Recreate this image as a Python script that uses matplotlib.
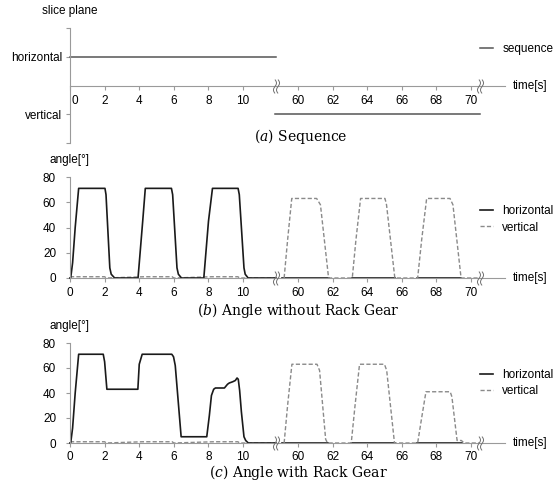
import numpy as np
import matplotlib
matplotlib.use('Agg')
import matplotlib.pyplot as plt
from matplotlib.path import Path
import matplotlib.transforms as mtransforms

plt.rcParams['font.family'] = ['Liberation Sans', 'DejaVu Sans']
plt.rcParams['mathtext.fontset'] = 'dejavuserif'

# ---- data ----
# (a) sequence: slice plane (1 = horizontal, -1 = vertical)
seq_t_left = [0, 11.9]
seq_left = [1, 1]
seq_t_right = [58.7, 70.5]
seq_right = [-1, -1]

# (b) angle without rack gear
b_t_h_left = [0, 0.04, 0.15, 0.3, 0.5, 2.02, 2.08, 2.3, 2.38, 2.58, 3.93, 4.05, 4.2, 4.35, 5.86,
              5.93, 6.18, 6.26, 6.44, 7.73, 7.85, 8.0, 8.23, 9.71, 9.78, 10.05, 10.12, 10.29, 11.9]
b_h_left = [0, 0, 12, 40, 71, 71, 66, 8, 3, 0, 0, 20, 45, 71, 71,
            66, 8, 3, 0, 0, 20, 45, 71, 71, 66, 8, 3, 0, 0]
b_t_v_left = [0, 0.5, 2.0, 2.1, 4.3, 5.9, 6.0, 8.2, 9.7, 9.8, 11.9]
b_v_left = [1, 1, 1, 0, 1, 1, 0, 1, 1, 0, 0]

b_t_v_right = [59.2, 59.4, 59.64, 61.08, 61.3, 61.77, 63.14, 63.35, 63.62, 65.03, 65.12, 65.6,
               66.92, 67.15, 67.44, 68.79, 68.96, 69.43, 70.5]
b_v_right = [0, 30, 63, 63, 58, 0, 0, 30, 63, 63, 58, 0, 0, 30, 63, 63, 58, 0, 0]
b_t_h_right = [59.1, 61.8, np.nan, 63.1, 65.6, np.nan, 66.9, 69.45]
b_h_right = [0, 0, np.nan, 0, 0, np.nan, 0, 0]

# (c) angle with rack gear
c_t_h_left = [0, 0.04, 0.15, 0.3, 0.5, 1.92, 2.0, 2.13, 3.92, 4.0, 4.17, 5.88, 5.98, 6.08, 6.42,
              7.9, 8.05, 8.17, 8.3, 8.4, 8.92, 9.1, 9.2, 9.4, 9.55, 9.65, 9.72, 9.8, 9.9, 10.05,
              10.15, 10.3, 11.9]
c_h_left = [0, 0, 12, 40, 71, 71, 65, 43, 43, 63, 71, 71, 69, 62, 5,
            5, 22, 38, 43, 44, 44, 47, 48, 49, 50, 52, 51, 42, 25, 5,
            2, 0, 0]
c_t_v_left = [0, 0.5, 2.0, 2.1, 4.2, 5.9, 6.0, 8.3, 9.7, 9.8, 11.9]
c_v_left = [1, 1, 1, 0, 1, 1, 0, 1, 1, 0, 0]

c_t_v_right = [59.2, 59.4, 59.65, 61.1, 61.25, 61.6, 61.71, 63.08, 63.3, 63.56, 65.0, 65.13, 65.58,
               66.92, 67.15, 67.4, 68.8, 68.9, 69.2, 69.45, 69.6, 70.5]
c_v_right = [0, 30, 63, 63, 58, 3, 0, 0, 30, 63, 63, 58, 0,
             0, 20, 41, 41, 37, 2, 2, 0, 0]
c_t_h_right = [59.1, 61.75, np.nan, 63.05, 65.6, np.nan, 66.9, 69.5]
c_h_right = [0, 0, np.nan, 0, 0, np.nan, 0, 0]

left_ticks = [0, 2, 4, 6, 8, 10]
right_ticks = [60, 62, 64, 66, 68, 70]
breaks = [58.73, 70.5]

# ---- style ----
W, H = 558, 480
AXC = '#9a9a9a'
HC = '#1a1a1a'
VC = '#8a8a8a'
FS = 8.5
CAP_FS = 10

# double squiggle marker for axis breaks
s = np.linspace(-1, 1, 15)
xs = 0.22 * np.sin(np.pi * s)
verts = list(zip(xs - 0.22, s)) + list(zip(xs + 0.22, s))
codes = ([Path.MOVETO] + [Path.LINETO] * (len(s) - 1)) * 2
squiggle = Path(verts, codes)

fig = plt.figure(figsize=(W / 100, H / 100), dpi=100)


def make_pair(top_px, bot_px):
    b = (H - bot_px) / H
    h = (bot_px - top_px) / H
    axl = fig.add_axes([70 / W, b, 206 / W, h])
    axr = fig.add_axes([276 / W, b, 229 / W, h])
    axl.set_xlim(0, 11.9)
    axr.set_xlim(58.73, 71.97)
    for ax in (axl, axr):
        ax.patch.set_alpha(0)
        for sp in ('top', 'right'):
            ax.spines[sp].set_visible(False)
        ax.spines['bottom'].set_color(AXC)
        ax.spines['left'].set_color(AXC)
        ax.tick_params(axis='both', colors=AXC, labelcolor='black', labelsize=FS,
                       length=3, width=0.8)
        ax.tick_params(axis='x', pad=3.5)
    axr.spines['left'].set_visible(False)
    axr.tick_params(axis='y', left=False, labelleft=False)
    axl.set_xticks(left_ticks)
    axr.set_xticks(right_ticks)
    return axl, axr


def add_breaks(axr, y):
    axr.plot(breaks, [y, y], ls='none', marker=squiggle, ms=10, mew=0.7,
             mec='#707070', mfc='none', clip_on=False, zorder=5)


def time_label(axr, yfrac):
    axr.annotate('time[s]', xy=(1, yfrac), xycoords='axes fraction', xytext=(6, 0),
                 textcoords='offset points', va='center', ha='left', fontsize=FS)


# (a) sequence
axl, axr = make_pair(28, 143)
for ax in (axl, axr):
    ax.set_ylim(-2, 2)
    ax.spines['bottom'].set_position(('data', 0))
axl.set_yticks([-2, -1, 1, 2])
axl.set_yticklabels(['', 'vertical', 'horizontal', ''])
axl.tick_params(axis='y', pad=2.5)
axl.plot(seq_t_left, seq_left, color='#555555', lw=1.1, clip_on=False)
axr.plot(seq_t_right, seq_right, color='#555555', lw=1.1, clip_on=False, label='sequence')
lab0 = axl.get_xticklabels()[0]
lab0.set_transform(lab0.get_transform() + mtransforms.ScaledTranslation(5 / 100, 0, fig.dpi_scale_trans))
add_breaks(axr, 0)
time_label(axr, 0.5)
axl.annotate('slice plane', xy=(0, 1), xycoords='axes fraction', xytext=(0, 8),
             textcoords='offset points', ha='center', va='bottom', fontsize=FS)
axr.legend(loc='center left', bbox_to_anchor=(480 / W, (H - 49) / H),
           bbox_transform=fig.transFigure, frameon=False, fontsize=FS,
           handlelength=1.1, handletextpad=0.8, borderpad=0, borderaxespad=0)
fig.text(301 / W, (H - 137) / H, r'$(a)$ Sequence', ha='center', va='center',
         fontsize=CAP_FS, family='DejaVu Serif')


def angle_panel(top_px, bot_px, th_l, h_l, tv_l, v_l, tv_r, v_r, th_r, h_r, leg_y, cap_y, caption):
    axl, axr = make_pair(top_px, bot_px)
    for ax in (axl, axr):
        ax.set_ylim(0, 80)
    axl.set_yticks([0, 20, 40, 60, 80])
    axl.tick_params(axis='y', pad=7)
    axl.plot(tv_l, v_l, color=VC, lw=1.0, ls=(0, (3, 1.6)), clip_on=False)
    axl.plot(th_l, h_l, color=HC, lw=1.2, clip_on=False)
    axr.plot(th_r, h_r, color=HC, lw=1.2, clip_on=False, label='horizontal')
    axr.plot(tv_r, v_r, color=VC, lw=1.0, ls=(0, (3, 1.6)), clip_on=False, label='vertical')
    add_breaks(axr, 0)
    time_label(axr, 0)
    axl.annotate('angle[°]', xy=(0, 1), xycoords='axes fraction', xytext=(0, 12),
                 textcoords='offset points', ha='center', va='center', fontsize=FS)
    axr.legend(loc='center left', bbox_to_anchor=(480 / W, (H - leg_y) / H),
               bbox_transform=fig.transFigure, frameon=False, fontsize=FS,
               handlelength=1.1, handletextpad=0.8, labelspacing=0.35,
               borderpad=0, borderaxespad=0)
    fig.text(298 / W, (H - cap_y) / H, caption, ha='center', va='center',
             fontsize=CAP_FS, family='DejaVu Serif')
    return axl, axr


angle_panel(177, 278, b_t_h_left, b_h_left, b_t_v_left, b_v_left,
            b_t_v_right, b_v_right, b_t_h_right, b_h_right, 219.5, 310,
            r'$(b)$ Angle without Rack Gear')
axl_c, axr_c = angle_panel(343, 443, c_t_h_left, c_h_left, c_t_v_left, c_v_left,
                           c_t_v_right, c_v_right, c_t_h_right, c_h_right, 383, 472,
                           r'$(c)$ Angle with Rack Gear')
for ax in (axl_c, axr_c):
    ax.tick_params(axis='x', pad=2.5)

fig.savefig('out.png', dpi=100)
